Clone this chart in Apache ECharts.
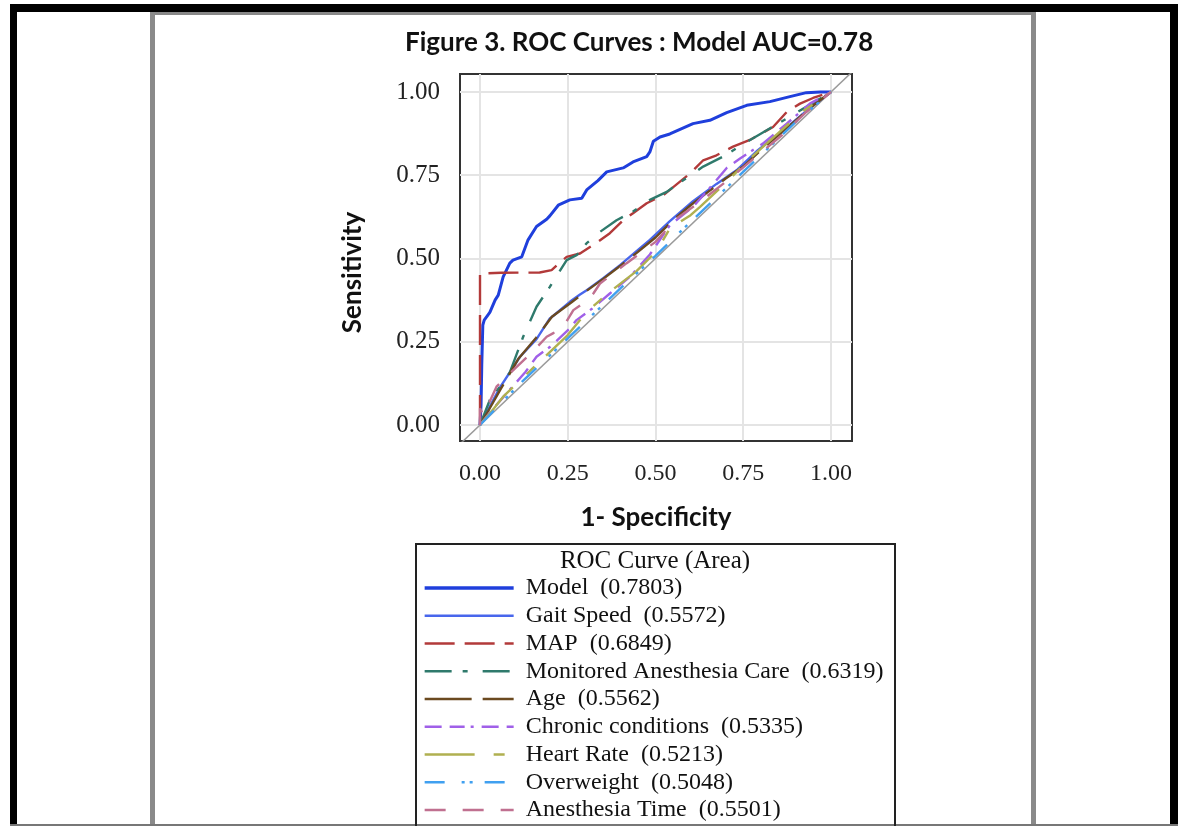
<!DOCTYPE html>
<html>
<head>
<meta charset="utf-8">
<script src="https://cdn.jsdelivr.net/npm/echarts@6/dist/echarts.min.js"></script>
<style>html,body{margin:0;padding:0;background:#fff}#c{width:1179px;height:826px}</style>
</head>
<body>
<div id="c"></div>
<script>
// ---- data ----
const tickValues = [0, 0.25, 0.5, 0.75, 1];
const seriesNames = ['Model  (0.7803)', 'Gait Speed  (0.5572)', 'MAP  (0.6849)', 'Monitored Anesthesia Care  (0.6319)', 'Age  (0.5562)', 'Chronic conditions  (0.5335)', 'Heart Rate  (0.5213)', 'Overweight  (0.5048)', 'Anesthesia Time  (0.5501)'];
const modelPts = [[0,0],[0.003,0.06],[0.005,0.18],[0.008,0.3],[0.012,0.315],[0.028,0.338],[0.043,0.375],[0.052,0.39],[0.066,0.445],[0.085,0.486],[0.094,0.495],[0.119,0.505],[0.137,0.556],[0.161,0.596],[0.19,0.618],[0.199,0.628],[0.223,0.66],[0.228,0.662],[0.256,0.676],[0.29,0.681],[0.304,0.706],[0.336,0.734],[0.361,0.76],[0.408,0.772],[0.436,0.79],[0.475,0.806],[0.484,0.82],[0.494,0.852],[0.513,0.865],[0.541,0.874],[0.607,0.905],[0.655,0.915],[0.703,0.938],[0.76,0.96],[0.826,0.971],[0.883,0.986],[0.93,0.998],[0.97,1.0],[1,1]];
const gaitPts = [[0,0],[0.02,0.04],[0.057,0.113],[0.114,0.205],[0.161,0.258],[0.199,0.32],[0.209,0.328],[0.256,0.37],[0.285,0.392],[0.304,0.405],[0.351,0.441],[0.399,0.48],[0.446,0.522],[0.484,0.556],[0.541,0.612],[0.607,0.672],[0.674,0.724],[0.731,0.765],[0.788,0.822],[0.863,0.884],[0.931,0.944],[1,1]];
const mapPts = [[0,0],[0,0.455],[0.06,0.457],[0.17,0.458],[0.204,0.465],[0.23,0.49],[0.247,0.505],[0.285,0.515],[0.332,0.547],[0.37,0.576],[0.408,0.615],[0.436,0.636],[0.475,0.666],[0.522,0.69],[0.541,0.706],[0.598,0.755],[0.636,0.795],[0.674,0.81],[0.721,0.836],[0.769,0.856],[0.835,0.895],[0.874,0.94],[0.912,0.965],[0.949,0.982],[1,1]];
const macPts = [[0,0],[0.028,0.075],[0.06,0.12],[0.085,0.158],[0.123,0.265],[0.161,0.355],[0.199,0.415],[0.247,0.495],[0.275,0.51],[0.304,0.546],[0.342,0.58],[0.389,0.615],[0.436,0.641],[0.484,0.676],[0.532,0.7],[0.579,0.735],[0.636,0.776],[0.693,0.806],[0.76,0.85],[0.817,0.885],[0.883,0.926],[0.931,0.956],[1,1]];
const agePts = [[0,0],[0.025,0.045],[0.06,0.11],[0.11,0.2],[0.16,0.262],[0.205,0.325],[0.26,0.368],[0.3,0.4],[0.35,0.438],[0.4,0.478],[0.45,0.52],[0.5,0.563],[0.55,0.615],[0.6,0.66],[0.65,0.7],[0.7,0.74],[0.75,0.776],[0.8,0.825],[0.85,0.87],[0.9,0.915],[0.95,0.96],[1,1]];
const chronicPts = [[0,0],[0.03,0.04],[0.08,0.1],[0.13,0.16],[0.161,0.205],[0.2,0.235],[0.256,0.29],[0.275,0.315],[0.32,0.35],[0.37,0.395],[0.427,0.445],[0.484,0.512],[0.541,0.6],[0.607,0.655],[0.655,0.712],[0.703,0.772],[0.741,0.8],[0.806,0.845],[0.874,0.905],[0.94,0.965],[1,1]];
const heartPts = [[0,0],[0.04,0.05],[0.066,0.085],[0.15,0.17],[0.25,0.27],[0.304,0.34],[0.37,0.4],[0.446,0.462],[0.503,0.522],[0.541,0.59],[0.6,0.63],[0.627,0.655],[0.703,0.73],[0.769,0.8],[0.845,0.872],[0.92,0.942],[1,1]];
const overweightPts = [[0,0],[0.05,0.055],[0.12,0.13],[0.2,0.21],[0.3,0.31],[0.4,0.41],[0.5,0.508],[0.6,0.61],[0.7,0.71],[0.8,0.81],[0.9,0.91],[1,1]];
const anesPts = [[0,0],[0,0.05],[0.01,0.03],[0.047,0.115],[0.1,0.17],[0.15,0.22],[0.19,0.265],[0.209,0.276],[0.24,0.3],[0.266,0.345],[0.3,0.37],[0.323,0.395],[0.342,0.425],[0.418,0.486],[0.5,0.55],[0.56,0.62],[0.62,0.665],[0.7,0.73],[0.78,0.8],[0.86,0.87],[0.93,0.94],[1,1]];
const diagPts = [[-0.06,-0.06],[1.07,1.07]];

// ---- styles ----
const seriesData = [modelPts, gaitPts, mapPts, macPts, agePts, chronicPts, heartPts, overweightPts, anesPts];
const colors = ['#1f3fdc', '#4866ec', '#b23a3a', '#2f7a6c', '#6b4a20', '#a060e8', '#b0b050', '#40a0f0', '#c07090'];
const widths = [3, 2.4, 2.4, 2.4, 2.4, 2.4, 2.4, 2.4, 2.4];
const dashes = ['solid', 'solid', [30, 10], [27, 11, 5, 15], [47, 11], [17, 8, 15, 6, 3, 8], [50, 19, 11, 16], [20, 17, 3, 5, 3, 12], [21, 17]];

const serif = 'Liberation Serif';
const sans = 'Lato';

const chart = echarts.init(document.getElementById('c'), null, {renderer: 'canvas'});

const lineSeries = seriesNames.map((n, i) => ({
  name: n, type: 'line', data: seriesData[i], showSymbol: false, symbol: 'none',
  z: 3, clip: true, animation: false,
  lineStyle: {color: colors[i], width: widths[i], type: dashes[i]},
  itemStyle: {color: colors[i]}
}));

const gridMarks = tickValues.map(v => ({xAxis: v})).concat(tickValues.map(v => ({yAxis: v})));

const option = {
  animation: false,
  backgroundColor: '#fff',
  title: {
    text: 'Figure 3. ROC Curves : Model AUC=0.78',
    left: 405, top: 30, padding: 0,
    textStyle: {fontFamily: sans, fontWeight: 'bold', fontSize: 26, color: '#111'}
  },
  grid: {left: 460, right: 327, top: 74, bottom: 385, show: true, borderColor: '#333', borderWidth: 2, backgroundColor: 'transparent'},
  xAxis: {
    type: 'value', min: -0.057, max: 1.06,
    name: '1- Specificity', nameLocation: 'middle', nameGap: 64,
    nameTextStyle: {fontFamily: sans, fontWeight: 'bold', fontSize: 26, color: '#111'},
    axisLine: {show: false},
    axisTick: {show: true, customValues: tickValues, length: 10, lineStyle: {color: '#222', width: 2}},
    axisLabel: {customValues: tickValues, formatter: v => v.toFixed(2), fontFamily: serif, fontSize: 24, color: '#222', margin: 21},
    splitLine: {show: false}
  },
  yAxis: {
    type: 'value', min: -0.048, max: 1.054,
    name: 'Sensitivity', nameLocation: 'middle', nameGap: 94, nameRotate: 90,
    nameTextStyle: {fontFamily: sans, fontWeight: 'bold', fontSize: 26, color: '#111', padding: [0, 30, 0, 0]},
    axisLine: {show: false},
    axisTick: {show: true, customValues: tickValues, length: 10, lineStyle: {color: '#222', width: 2}},
    axisLabel: {customValues: tickValues, formatter: v => v.toFixed(2), fontFamily: serif, fontSize: 25, color: '#222', margin: 20},
    splitLine: {show: false}
  },
  legend: {
    orient: 'vertical', left: 423, top: 576, padding: 0,
    itemWidth: 89, itemHeight: 14, itemGap: 3.75,
    data: seriesNames.map((n, i) => ({name: n, itemStyle: {opacity: 0}, lineStyle: {color: colors[i], width: widths[i] + 0.3, type: dashes[i]}})),
    textStyle: {fontFamily: serif, fontSize: 24, color: '#111', lineHeight: 24, padding: [0, 0, 0, 7]},
    selectedMode: false
  },
  graphic: [
    {type: 'rect', shape: {x: 10, y: 4, width: 1168, height: 8}, style: {fill: '#000'}, silent: true},
    {type: 'rect', shape: {x: 10, y: 4, width: 7, height: 822}, style: {fill: '#000'}, silent: true},
    {type: 'rect', shape: {x: 1170, y: 4, width: 8, height: 822}, style: {fill: '#000'}, silent: true},
    {type: 'rect', shape: {x: 150, y: 12, width: 885, height: 3}, style: {fill: '#888'}, silent: true},
    {type: 'rect', shape: {x: 150, y: 12, width: 5, height: 814}, style: {fill: '#8a8a8a'}, silent: true},
    {type: 'rect', shape: {x: 1031, y: 12, width: 5, height: 814}, style: {fill: '#8a8a8a'}, silent: true},
    {type: 'rect', shape: {x: 10, y: 824, width: 1168, height: 2}, style: {fill: '#777'}, silent: true},
    {type: 'rect', shape: {x: 416, y: 544, width: 479, height: 300}, style: {fill: 'none', stroke: '#222', lineWidth: 2}, silent: true},
    {type: 'text', x: 655, y: 561, style: {text: 'ROC Curve (Area)', font: '25px "Liberation Serif"', fill: '#111', textAlign: 'center', textVerticalAlign: 'middle'}, silent: true}
  ],
  series: [{
    name: 'diag', type: 'line', data: diagPts, showSymbol: false, symbol: 'none', z: 2, clip: true,
    lineStyle: {color: '#9a9a9a', width: 1.5}, silent: true,
    markLine: {silent: true, symbol: ['none', 'none'], label: {show: false}, animation: false,
      lineStyle: {color: '#e4e4e4', width: 2, type: 'solid'}, data: gridMarks, z: 1}
  }].concat(lineSeries)
};
chart.setOption(option);
</script>
</body>
</html>
